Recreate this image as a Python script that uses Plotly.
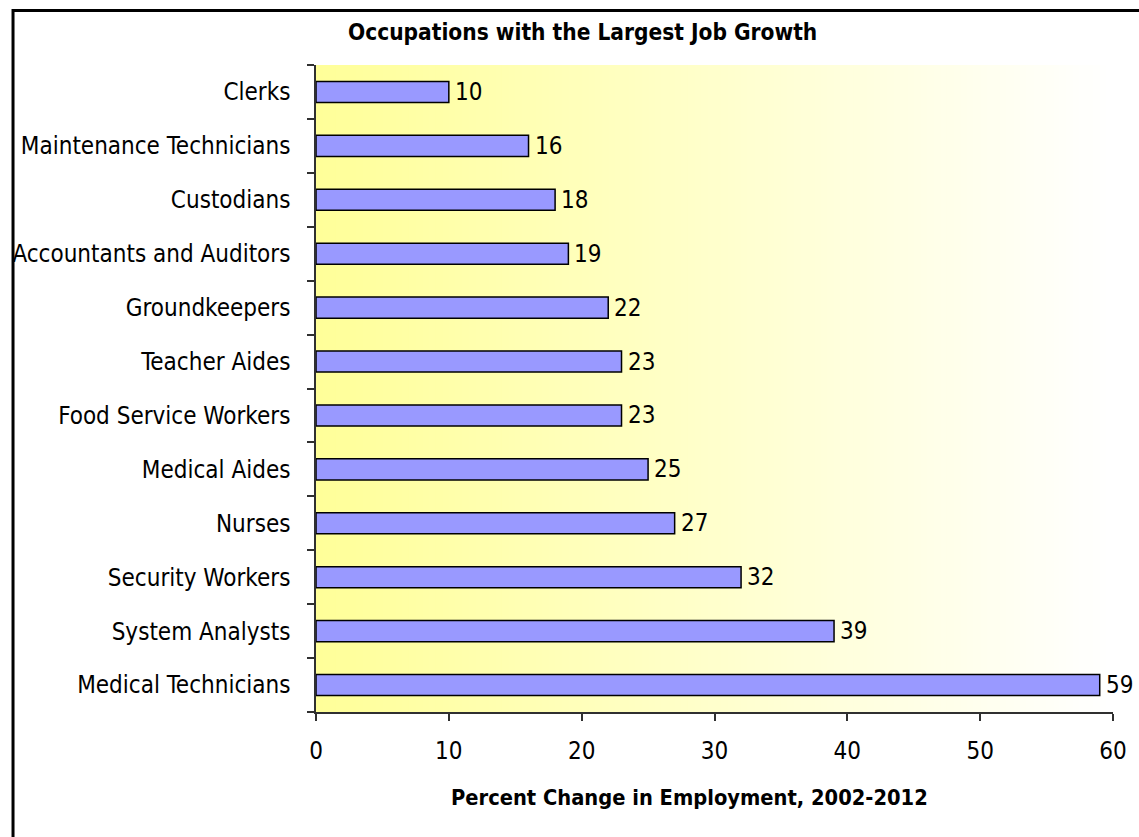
import plotly.graph_objects as go

# Occupations listed bottom-to-top so the largest growth sits at the bottom
occupations = [
    "Medical Technicians", "System Analysts", "Security Workers", "Nurses",
    "Medical Aides", "Food Service Workers", "Teacher Aides", "Groundkeepers",
    "Accountants and Auditors", "Custodians", "Maintenance Technicians", "Clerks",
]
pct_change = [59, 39, 32, 27, 25, 23, 23, 22, 19, 18, 16, 10]
x_ticks = [0, 10, 20, 30, 40, 50, 60]

W, H = 1139, 837
ML, MR, MT, MB = 315, 23, 65, 125
FONT = "DejaVu Sans Condensed, DejaVu Sans, sans-serif"

fig = go.Figure()
fig.add_trace(go.Bar(
    x=pct_change, y=occupations, orientation="h",
    marker=dict(color="#9999FF", line=dict(color="#000000", width=1.5)),
    hoverinfo="x+y",
))

# value labels next to each bar
annotations = [
    dict(x=v, y=c, xref="x", yref="y", text=str(v), showarrow=False,
         xanchor="left", yanchor="middle", xshift=4,
         font=dict(family=FONT, size=24, color="#000000"))
    for v, c in zip(pct_change, occupations)
]

pw, ph = W - ML - MR, H - MT - MB
def px_to_paper_x(px):
    return (px - ML) / pw
def px_to_paper_y(py):
    return (H - MB - py) / ph

annotations.append(dict(
    x=px_to_paper_x(583), y=px_to_paper_y(32), xref="paper", yref="paper",
    text="<b>Occupations with the Largest Job Growth</b>", showarrow=False,
    xanchor="center", yanchor="middle",
    font=dict(family=FONT, size=22.5, color="#000000")))
annotations.append(dict(
    x=px_to_paper_x(690), y=px_to_paper_y(797), xref="paper", yref="paper",
    text="<b>Percent Change in Employment, 2002-2012</b>", showarrow=False,
    xanchor="center", yanchor="middle",
    font=dict(family=FONT, size=21.7, color="#000000")))

# plot-area background: horizontal fade from pale yellow to white
shapes = []
n = 120
c0 = (255, 255, 153)
for i in range(n):
    t = i / (n - 1)
    r = round(c0[0] + (255 - c0[0]) * t)
    g = round(c0[1] + (255 - c0[1]) * t)
    b = round(c0[2] + (255 - c0[2]) * t)
    shapes.append(dict(type="rect", xref="paper", yref="paper",
                       x0=i / n, x1=(i + 1) / n + 0.002, y0=0, y1=1,
                       fillcolor=f"rgb({r},{g},{b})", line=dict(width=0),
                       layer="below"))

# chart frame (runs past the right and bottom edges of the page)
shapes.append(dict(type="rect", xref="paper", yref="paper",
                   x0=px_to_paper_x(10.5), x1=px_to_paper_x(1160),
                   y0=px_to_paper_y(860), y1=px_to_paper_y(10.5),
                   line=dict(color="#000000", width=3), fillcolor="rgba(0,0,0,0)",
                   layer="above"))

fig.update_layout(
    width=W, height=H,
    margin=dict(l=ML, r=MR, t=MT, b=MB, pad=0),
    paper_bgcolor="#FFFFFF", plot_bgcolor="#FFFFFF",
    showlegend=False, bargap=0.61,
    font=dict(family=FONT, size=24, color="#000000"),
    annotations=annotations, shapes=shapes,
)
fig.update_xaxes(
    range=[0, 60], tickvals=x_ticks, ticktext=[str(t) for t in x_ticks],
    showgrid=False, zeroline=False, showline=True, linecolor="#303030", linewidth=1.5,
    ticks="outside", ticklen=7, tickcolor="#303030", tickwidth=1.5,
    ticklabelstandoff=9, tickfont=dict(family=FONT, size=24),
)
fig.update_yaxes(
    categoryorder="array", categoryarray=occupations,
    showgrid=False, zeroline=False, showline=True, linecolor="#303030", linewidth=1.5,
    ticks="outside", ticklen=7, tickcolor="#303030", tickwidth=1.5, tickson="boundaries",
    ticklabelstandoff=19, tickfont=dict(family=FONT, size=24),
)

fig.write_html("out.html")
